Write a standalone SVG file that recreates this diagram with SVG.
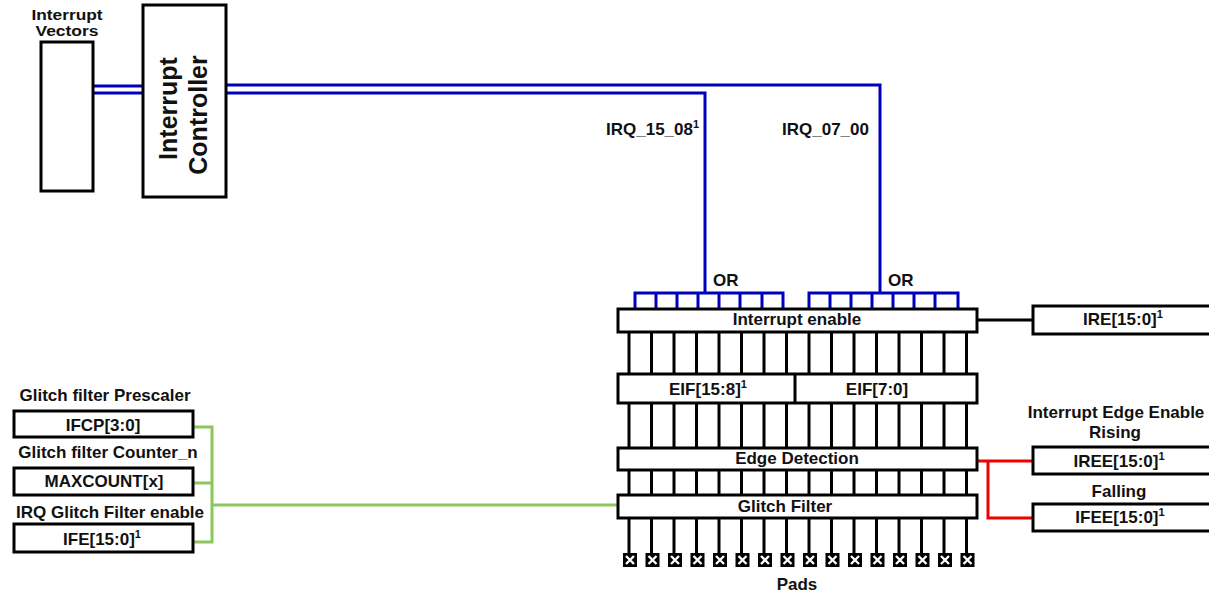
<svg xmlns="http://www.w3.org/2000/svg" width="1209" height="596" viewBox="0 0 1209 596">
<defs>
<style>
text{font-family:"Liberation Sans",Arial,sans-serif;font-weight:bold;fill:#111;}
.t{font-size:17px;}
.tm{text-anchor:middle;}
.sup{font-size:11px;}
.box{fill:#fff;stroke:#000;stroke-width:3;}
.blk{stroke:#000;stroke-width:3;fill:none;}
.blue{stroke:#0000bb;stroke-width:3;fill:none;}
.green{stroke:#8dc65b;stroke-width:3;fill:none;}
.red{stroke:#ee0000;stroke-width:3;fill:none;}
.padx{stroke:#fff;stroke-width:2.4;}
</style>
<g id="pad">
<rect x="-7" y="0" width="14" height="14" fill="#000"/>
<path class="padx" d="M-4 3L4 11M4 3L-4 11"/>
</g>
</defs>

<g id="connectors">
<path class="blue" d="M93 86H143M93 93H143"/>
<path class="blue" d="M226 85H880V293"/>
<path class="blue" d="M226 93H705V293"/>
<path class="blue" d="M635 309V293H783V309M656 293V309M677 293V309M698 293V309M719 293V309M740 293V309M762 293V309"/>
<path class="blue" d="M809 309V293H958V309M830 293V309M851 293V309M872 293V309M893 293V309M914 293V309M935 293V309"/>
<path class="blk" d="M629 332V374M651.5 332V374M674 332V374M696.5 332V374M719 332V374M741.5 332V374M764 332V374M786.5 332V374M809 332V374M831.5 332V374M854 332V374M876.5 332V374M899 332V374M921.5 332V374M944 332V374M966.5 332V374"/>
<path class="blk" d="M629 403V448M651.5 403V448M674 403V448M696.5 403V448M719 403V448M741.5 403V448M764 403V448M786.5 403V448M809 403V448M831.5 403V448M854 403V448M876.5 403V448M899 403V448M921.5 403V448M944 403V448M966.5 403V448"/>
<path class="blk" d="M629 470V495M651.5 470V495M674 470V495M696.5 470V495M719 470V495M741.5 470V495M764 470V495M786.5 470V495M809 470V495M831.5 470V495M854 470V495M876.5 470V495M899 470V495M921.5 470V495M944 470V495M966.5 470V495"/>
<path class="blk" d="M629 518V553M651.5 518V553M674 518V553M696.5 518V553M719 518V553M741.5 518V553M764 518V553M786.5 518V553M809 518V553M831.5 518V553M854 518V553M876.5 518V553M899 518V553M921.5 518V553M944 518V553M966.5 518V553"/>
<path class="blk" d="M977 320H1033"/>
<path class="red" d="M977 461H1033M988 461V518H1033"/>
<path class="green" d="M193 427H212V542H193M193 483H212M212 505H618"/>
</g>

<g id="interrupt-vectors">
<text x="67" y="20" class="tm" font-size="14" textLength="71" lengthAdjust="spacingAndGlyphs">Interrupt</text>
<text x="67" y="36" class="tm" font-size="14" textLength="63" lengthAdjust="spacingAndGlyphs">Vectors</text>
<rect class="box" x="41" y="42" width="52" height="149"/>
</g>

<g id="interrupt-controller">
<rect class="box" x="143" y="5" width="83" height="192"/>
<text transform="translate(177,108.5) rotate(-90)" class="tm" font-size="25">Interrupt</text>
<text transform="translate(207,115) rotate(-90)" class="tm" font-size="25">Controller</text>
</g>

<g id="irq-labels">
<text x="606" y="135" class="t">IRQ_15_08<tspan class="sup" dy="-7">1</tspan></text>
<text x="782" y="135" class="t">IRQ_07_00</text>
<text x="713" y="286" class="t">OR</text>
<text x="888" y="286" class="t">OR</text>
</g>

<g id="interrupt-enable">
<rect class="box" x="618" y="309" width="359" height="23"/>
<text x="797" y="325" class="t tm">Interrupt enable</text>
</g>

<g id="eif">
<rect class="box" x="618" y="374" width="359" height="29"/>
<path class="blk" d="M795 374V403"/>
<text x="708" y="395" class="t tm">EIF[15:8]<tspan class="sup" dy="-7">1</tspan></text>
<text x="877" y="395" class="t tm">EIF[7:0]</text>
</g>

<g id="edge-detection">
<rect class="box" x="618" y="448" width="359" height="22"/>
<text x="797" y="464" class="t tm">Edge Detection</text>
</g>

<g id="glitch-filter">
<rect class="box" x="618" y="495" width="359" height="23"/>
<text x="785" y="512" class="t tm">Glitch Filter</text>
</g>

<g id="pads">
<use href="#pad" x="630" y="553"/>
<use href="#pad" x="652.5" y="553"/>
<use href="#pad" x="675" y="553"/>
<use href="#pad" x="697.5" y="553"/>
<use href="#pad" x="720" y="553"/>
<use href="#pad" x="742.5" y="553"/>
<use href="#pad" x="765" y="553"/>
<use href="#pad" x="787.5" y="553"/>
<use href="#pad" x="810" y="553"/>
<use href="#pad" x="832.5" y="553"/>
<use href="#pad" x="855" y="553"/>
<use href="#pad" x="877.5" y="553"/>
<use href="#pad" x="900" y="553"/>
<use href="#pad" x="922.5" y="553"/>
<use href="#pad" x="945" y="553"/>
<use href="#pad" x="967.5" y="553"/>
<text x="797" y="590" class="t tm">Pads</text>
</g>

<g id="ire">
<rect class="box" x="1033" y="306" width="190" height="28"/>
<text x="1123" y="325" class="t tm">IRE[15:0]<tspan class="sup" dy="-7">1</tspan></text>
</g>

<g id="iree">
<text x="1116" y="418" class="t tm">Interrupt Edge Enable</text>
<text x="1115" y="438" class="t tm">Rising</text>
<rect class="box" x="1033" y="447" width="190" height="27"/>
<text x="1119" y="467" class="t tm">IREE[15:0]<tspan class="sup" dy="-7">1</tspan></text>
</g>

<g id="ifee">
<text x="1119" y="497" class="t tm">Falling</text>
<rect class="box" x="1033" y="504" width="190" height="27"/>
<text x="1120" y="523" class="t tm">IFEE[15:0]<tspan class="sup" dy="-7">1</tspan></text>
</g>

<g id="ifcp">
<text x="105" y="401" class="t tm">Glitch filter Prescaler</text>
<rect class="box" x="14" y="411" width="179" height="26"/>
<text x="103" y="431" class="t tm">IFCP[3:0]</text>
</g>

<g id="maxcount">
<text x="108" y="458" class="t tm">Glitch filter Counter_n</text>
<rect class="box" x="14" y="468" width="179" height="27"/>
<text x="104" y="487" class="t tm">MAXCOUNT[x]</text>
</g>

<g id="ife">
<text x="110" y="518" class="t tm">IRQ Glitch Filter enable</text>
<rect class="box" x="14" y="524" width="179" height="28"/>
<text x="102" y="545" class="t tm">IFE[15:0]<tspan class="sup" dy="-7">1</tspan></text>
</g>
</svg>
